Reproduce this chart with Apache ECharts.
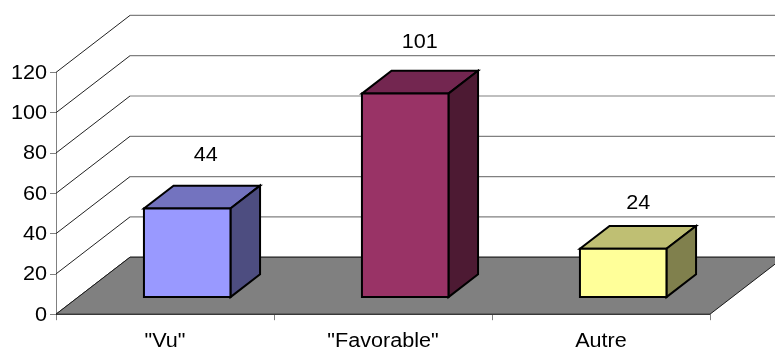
<!DOCTYPE html>
<html>
<head>
<meta charset="utf-8">
<style>html,body{margin:0;padding:0;background:#fff}#chart{width:775px;height:347px}</style>
<script src="https://cdn.jsdelivr.net/npm/echarts@6/dist/echarts.min.js"></script>
</head>
<body>
<div id="chart"></div>
<script>
const categories = ['"Vu"', '"Favorable"', 'Autre'];
const values = [44, 101, 24];
const yTicks = [0, 20, 40, 60, 80, 100, 120];
const frontColors = ['#9999FF', '#993366', '#FFFF99'];
const topColors = ['#7373BF', '#732650', '#BFBF73'];
const sideColors = ['#4D4D80', '#4D1A33', '#80804D'];

// Oblique projection of the depth axis, in pixels
const DEPTH_X = 74;
const DEPTH_Y = -57;
const BAR_NEAR = 0.3;
const BAR_DEPTH = 0.4;
const GAP_WIDTH = 1.52;
const LABEL_SCALE_X = 1.08;
const FONT = '20px "Liberation Sans", Arial, sans-serif';
const valueLabelShift = [[18.5, -52.5], [14.5, -51.5], [15, -45.5]];

function wideText(text, x, y, align) {
  return {
    type: 'text', x, y, scaleX: LABEL_SCALE_X, z2: 20,
    style: { text, x: 0, y: 0, font: FONT, fill: '#000', align, verticalAlign: 'middle' }
  };
}

function poly(points, fill, stroke, lineWidth) {
  return {
    type: 'polygon',
    shape: { points },
    style: { fill, stroke, lineWidth, lineJoin: 'miter' }
  };
}

// Side-wall diagonal, back-wall gridline and tick label for one value
function renderWallLine(params, api) {
  const cs = params.coordSys;
  const y = api.coord([0, api.value(1)])[1];
  const right = cs.x + cs.width + DEPTH_X;
  return {
    type: 'group',
    children: [
      { type: 'line', shape: { x1: cs.x, y1: y, x2: cs.x + DEPTH_X, y2: y + DEPTH_Y },
        style: { stroke: '#222', lineWidth: 1 } },
      { type: 'line', shape: { x1: cs.x + DEPTH_X, y1: y + DEPTH_Y, x2: right, y2: y + DEPTH_Y },
        style: { stroke: '#808080', lineWidth: 1.2 } },
      wideText(String(api.value(1)), cs.x - 9, y + 0.8, 'right')
    ]
  };
}

function renderFloor(params, api) {
  const cs = params.coordSys;
  const y = api.coord([0, 0])[1];
  const x0 = cs.x, x1 = cs.x + cs.width;
  return poly(
    [[x0, y], [x1, y], [x1 + DEPTH_X, y + DEPTH_Y], [x0 + DEPTH_X, y + DEPTH_Y]],
    '#808080', '#1a1a1a', 1
  );
}

function renderBar(params, api) {
  const i = api.value(0);
  const base = api.coord([i, 0]);
  const top = api.coord([i, api.value(1)]);
  const width = api.size([1, 0])[0] / (1 + GAP_WIDTH);
  const nx = DEPTH_X * BAR_NEAR, ny = DEPTH_Y * BAR_NEAR;
  const dx = DEPTH_X * BAR_DEPTH, dy = DEPTH_Y * BAR_DEPTH;
  const l = base[0] - width / 2 + nx, r = l + width;
  const b = base[1] + ny, t = top[1] + ny;
  const shift = valueLabelShift[i];
  return {
    type: 'group',
    children: [
      poly([[l, t], [r, t], [r + dx, t + dy], [l + dx, t + dy]], topColors[i], '#000', 2),
      poly([[r, t], [r + dx, t + dy], [r + dx, b + dy], [r, b]], sideColors[i], '#000', 2),
      poly([[l, t], [r, t], [r, b], [l, b]], frontColors[i], '#000', 2),
      wideText(String(api.value(1)), l + width / 2 + shift[0], t + shift[1], 'center')
    ]
  };
}

function renderCategoryLabel(params, api) {
  const p = api.coord([api.value(0), 0]);
  return wideText(categories[api.value(0)], p[0], p[1] + 27, 'center');
}

const chart = echarts.init(document.getElementById('chart'), null, { renderer: 'canvas' });
chart.setOption({
  animation: false,
  backgroundColor: '#fff',
  grid: { left: 56, right: 65, top: 72.4, height: 241.8, containLabel: false },
  xAxis: {
    type: 'category',
    data: categories,
    axisLine: { lineStyle: { color: '#808080', width: 1 } },
    axisTick: { show: true, length: 6, alignWithLabel: false, lineStyle: { color: '#808080' } },
    axisLabel: { show: false },
    splitLine: { show: false }
  },
  yAxis: {
    type: 'value',
    min: 0,
    max: 120,
    interval: 20,
    axisLine: { show: true, lineStyle: { color: '#808080', width: 1 } },
    axisTick: { show: true, length: 6, lineStyle: { color: '#808080' } },
    axisLabel: { show: false },
    splitLine: { show: false }
  },
  series: [
    { type: 'custom', silent: true, z: 3, clip: false, renderItem: renderWallLine,
      data: yTicks.map(v => [0, v]) },
    { type: 'custom', silent: true, z: 4, clip: false, renderItem: renderFloor,
      data: [[0, 0]] },
    { type: 'custom', silent: true, z: 5, clip: false, renderItem: renderBar,
      data: values.map((v, i) => [i, v]) },
    { type: 'custom', silent: true, z: 5, clip: false, renderItem: renderCategoryLabel,
      data: categories.map((c, i) => [i, 0]) }
  ]
});
</script>
</body>
</html>
